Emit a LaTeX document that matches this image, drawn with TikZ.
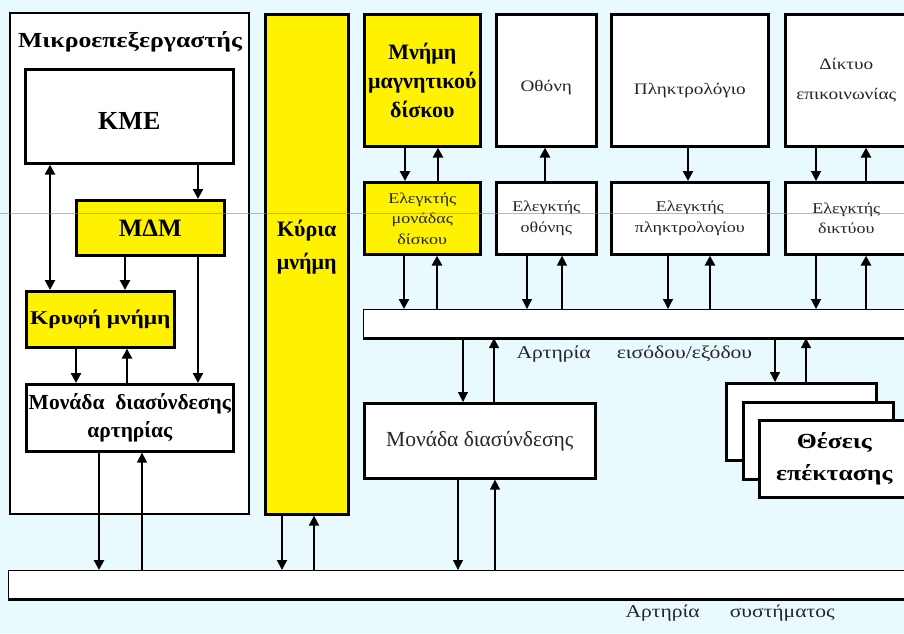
\documentclass[tikz,border=0pt]{standalone}
\usepackage{fontspec}
\setmainfont{Liberation Serif}
\newfontfamily\widefont[FakeStretch=1.2]{Liberation Serif}
\usetikzlibrary{arrows.meta,positioning}

\definecolor{bgcyan}{RGB}{233,250,255}
\definecolor{guideblue}{RGB}{110,140,210}

\begin{document}
\begin{tikzpicture}[x=1pt,y=-1pt,
  box/.style={draw, line width=2.6pt, fill=white, anchor=north west, inner sep=0pt, align=center},
  ybox/.style={box, fill=yellow},
  bus/.style={draw, line width=1.2pt, fill=white, anchor=north west, inner sep=0pt},
  thk/.style={line width=2.6pt, -{Triangle[width=10pt,length=10pt]}},
  mid/.style={line width=1.8pt, -{Triangle[width=10pt,length=10pt]}},
  thn/.style={line width=1.3pt, -{Triangle[width=10pt,length=10pt]}},
  bigb/.style={font=\bfseries\fontsize{26}{27}\selectfont},
  midb/.style={font=\widefont\bfseries\fontsize{19.5}{30}\selectfont},
  plain/.style={font=\widefont\fontsize{16}{30}\selectfont, text=black!85},
  small/.style={font=\widefont\fontsize{15}{20.5}\selectfont, text=black!85},
  lbl/.style={anchor=west, font=\widefont\fontsize{18}{20}\selectfont, text=black!85},
]
\useasboundingbox (0,0) rectangle (904,633);
\fill[bgcyan] (0,0) rectangle (904,633);
\clip (0,0) rectangle (904,633);

% microprocessor
\node[box, line width=2.2pt, minimum width=239pt, minimum height=501pt] (mp) at (9,12) {};
\node[font=\widefont\bfseries\fontsize{21.5}{24}\selectfont] (mptitle) at (130,42) {Μικροεπεξεργαστής};
\node[box, bigb, minimum width=208pt, minimum height=94pt] (kme) at (24,68) {\raisebox{-13pt}[0pt][0pt]{ΚΜΕ}};
\node[ybox, bigb, font=\bfseries\fontsize{25}{26}\selectfont, minimum width=148pt, minimum height=55pt] (mdm) at (75,199) {ΜΔΜ};
\node[ybox, midb, minimum width=148pt, minimum height=56pt] (cache) at (25,290) {Κρυφή μνήμη};
\node[box, font=\bfseries\fontsize{21.5}{28}\selectfont, minimum width=207pt, minimum height=67pt] (biu) at (25,383) {Μονάδα\ \ διασύνδεσης\\αρτηρίας};

% main memory
\node[ybox, minimum width=83pt, minimum height=500pt] (ram) at (264,13) {};
\node[font=\bfseries\fontsize{22}{33}\selectfont, align=center] (ramtxt) at ([yshift=17pt]ram.center) {Κύρια\\μνήμη};

% devices and controllers
\node[ybox, font=\bfseries\fontsize{22}{29}\selectfont, minimum width=116pt, minimum height=132pt] (disk) at (363,13) {Μνήμη\\μαγνητικού\\δίσκου};
\node[ybox, small, minimum width=116pt, minimum height=72pt] (diskctl) at (363,181) {Ελεγκτής\\μονάδας\\δίσκου};
\node[box, plain, minimum width=100pt, minimum height=132pt] (scr) at (495,13) {\raisebox{-11pt}[0pt][0pt]{Οθόνη}};
\node[box, small, minimum width=100pt, minimum height=72pt] (scrctl) at (495,181) {Ελεγκτής\\οθόνης};
\node[box, plain, minimum width=157pt, minimum height=132pt] (kbd) at (610,13) {\raisebox{-14pt}[0pt][0pt]{Πληκτρολόγιο}};
\node[box, small, minimum width=157pt, minimum height=72pt] (kbdctl) at (610,181) {Ελεγκτής\\πληκτρολογίου};
\node[box, plain, minimum width=122pt, minimum height=132pt] (net) at (784,13) {Δίκτυο\\επικοινωνίας};
\node[box, small, minimum width=122pt, minimum height=72pt] (netctl) at (784,181) {Ελεγκτής\\δικτύου};

% buses
\node[bus, minimum width=560pt, minimum height=28pt] (iobus) at (363,309) {};
\draw[line width=2.6pt] (iobus.south west) -- (iobus.south east);
\node[bus, minimum width=910pt, minimum height=28pt] (sysbus) at (8,570) {};
\draw[line width=2.6pt] (sysbus.south west) -- (sysbus.south east);
\node[lbl] (iolbl) at (513,354) {Αρτηρία\hspace{26pt}εισόδου/εξόδου};
\node[lbl] (syslbl) at (622,613) {Αρτηρία\hspace{30pt}συστήματος};

% interface unit and expansion slots
\node[box, font=\fontsize{21.5}{24}\selectfont, text=black!85, minimum width=231pt, minimum height=75pt] (iou) at (363,402) {Μονάδα διασύνδεσης};
\foreach \i/\x/\y in {1/725/382, 2/742/401, 3/758/419}
  \node[box, minimum width=150pt, minimum height=77pt] (s\i) at (\x,\y) {};
\node[font=\widefont\bfseries\fontsize{21.5}{32}\selectfont, align=center] (slottxt) at (s3.center) {Θέσεις\\επέκτασης};

% links
\draw[thk, {Triangle[width=10pt,length=10pt]}-{Triangle[width=10pt,length=10pt]}] (kme.south -| 50,0) -- (cache.north -| 50,0);
\foreach \a/\b/\x/\w in {kme/mdm/198/thk, mdm/cache/125/thk, mdm/biu/198/thk, cache/biu/76/thk,
    biu/sysbus/99/thk, ram/sysbus/282/mid, disk/diskctl/405/thk, diskctl/iobus/404/thk,
    scrctl/iobus/527/thn, kbd/kbdctl/688/thk, kbdctl/iobus/668/thn, net/netctl/816/thn,
    netctl/iobus/816/thn, iobus/iou/463/thn, iou/sysbus/458/thn, iobus/s1/775/thn}
  \draw[\w] (\a.south -| \x,0) -- (\b.north -| \x,0);
\foreach \a/\b/\x/\w in {cache/biu/127/thk, biu/sysbus/142/thn, ram/sysbus/314/mid,
    disk/diskctl/438/thk, diskctl/iobus/437/thk, scr/scrctl/545/thk, scrctl/iobus/562/thn,
    kbdctl/iobus/710/thk, net/netctl/866/thk, netctl/iobus/866/thk, iobus/iou/494/thn,
    iou/sysbus/495/thn, iobus/s1/806/thn}
  \draw[\w] (\b.north -| \x,0) -- (\a.south -| \x,0);

% guide line
\coordinate (gl) at (0,213);
\coordinate (gr) at (904,213);
\draw[guideblue, line width=0.6pt, opacity=0.6] (gl) -- (gr);
\end{tikzpicture}
\end{document}
